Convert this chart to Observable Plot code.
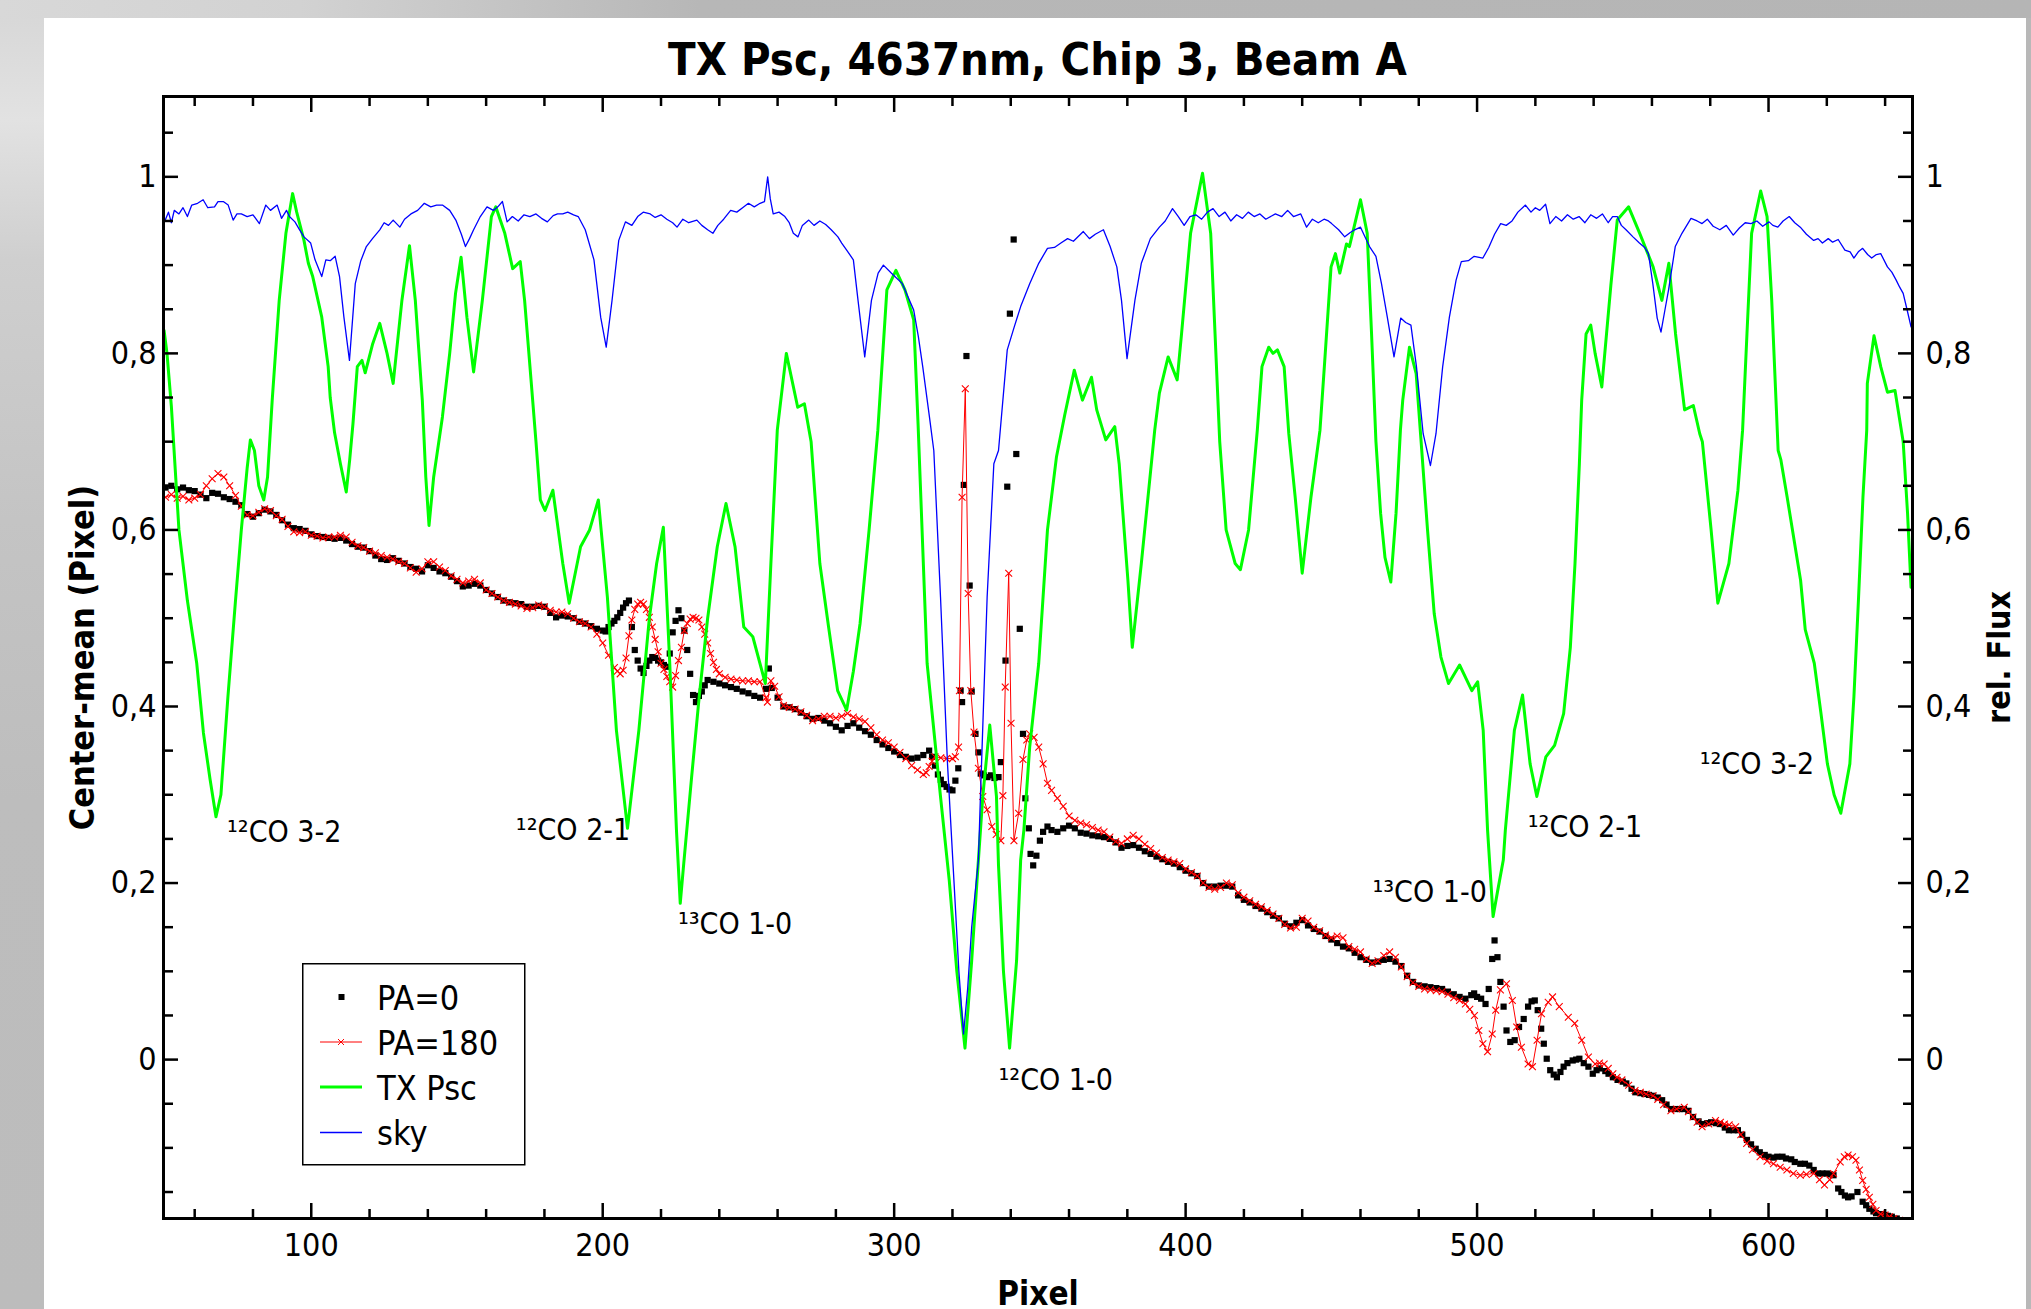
<!DOCTYPE html>
<html>
<head>
<meta charset="utf-8">
<script src="https://cdn.jsdelivr.net/npm/d3@7"></script>
<script src="https://cdn.jsdelivr.net/npm/@observablehq/plot@0.6"></script>
<style>
html,body{margin:0;padding:0;}
body{width:2031px;height:1309px;position:relative;overflow:hidden;background:#b8b8b8;font-family:'DejaVu Sans',sans-serif;font-stretch:condensed;}
#leftstrip{position:absolute;left:0;top:0;width:44px;height:1309px;background:linear-gradient(to bottom,#d6d6d6 0px,#e2e2e2 120px,#cfcfcf 260px,#c4c4c4 520px,#bdbdbd 800px,#bcbcbc 1309px);}
#topstrip{position:absolute;left:0;top:0;width:2031px;height:18px;background:linear-gradient(to right,#d8d8d8 0px,#d2d2d2 300px,#b7b7b7 700px,#b5b5b5 2031px);}
#panel{position:absolute;left:44px;top:18px;width:1982px;height:1291px;background:#fff;}
#title{position:absolute;left:163px;width:1749px;top:37px;text-align:center;font-weight:bold;font-size:45px;line-height:1;color:#000;white-space:nowrap;}
#chart{position:absolute;left:0;top:80px;}
#legend{position:absolute;left:302px;top:963px;}
</style>
</head>
<body>
<div id="leftstrip"></div>
<div id="topstrip"></div>
<div id="panel"></div>
<div id="title">TX Psc, 4637nm, Chip 3, Beam A</div>
<div id="chart"></div>
<div id="legend"></div>
<script>
// ---------- data (pixel, value) ----------
const seriesNames = ["PA=0", "PA=180", "TX Psc", "sky"];

const txPsc = [[49.5,0.826],[50.5,0.80],[52,0.74],[54.6,0.60],[57.5,0.52],[60.7,0.449],[63,0.37],[65.3,0.317],[67.3,0.275],[69,0.30],[71.4,0.411],[74,0.52],[76,0.60],[78,0.67],[79.1,0.702],[80.5,0.69],[82,0.65],[83.7,0.634],[85,0.66],[86.6,0.747],[89,0.86],[91.3,0.936],[93.6,0.981],[95,0.96],[97.5,0.928],[99,0.902],[100.5,0.887],[103.6,0.841],[105.8,0.785],[106.5,0.75],[108,0.71],[110,0.675],[112,0.643],[113.2,0.68],[114.3,0.72],[115.8,0.785],[117.4,0.792],[118.5,0.778],[121,0.81],[123.5,0.834],[126,0.80],[128.1,0.766],[131.1,0.86],[133.7,0.922],[135.7,0.86],[138.1,0.747],[139.3,0.66],[140.4,0.605],[142,0.66],[145,0.728],[147.5,0.80],[149.5,0.868],[151.4,0.909],[153.4,0.841],[155.7,0.779],[158.7,0.86],[161.8,0.955],[163.3,0.966],[166.4,0.936],[169.1,0.896],[171.7,0.904],[173.2,0.86],[175.5,0.766],[177.1,0.70],[178.6,0.634],[180.2,0.622],[182.9,0.645],[186.3,0.562],[188.5,0.517],[192.4,0.581],[195.5,0.60],[198.5,0.634],[201.6,0.524],[204.7,0.373],[208.5,0.262],[212.4,0.373],[216,0.50],[218.5,0.562],[220.8,0.603],[223,0.449],[225.3,0.26],[226.6,0.177],[227.8,0.222],[230.5,0.32],[233.1,0.411],[236,0.50],[239.3,0.581],[242.3,0.630],[245.4,0.581],[248.4,0.49],[251.5,0.479],[255.8,0.426],[257.7,0.562],[259.9,0.713],[263,0.80],[266.9,0.739],[269.2,0.743],[271.5,0.70],[274.5,0.562],[277.5,0.49],[280.6,0.418],[283.7,0.396],[286,0.44],[288.3,0.494],[291.4,0.60],[294.4,0.713],[297.5,0.872],[300.6,0.894],[303.7,0.872],[306.7,0.838],[308.2,0.72],[311.3,0.449],[315.9,0.298],[318.9,0.203],[321.5,0.10],[324.3,0.013],[326.6,0.112],[328.9,0.226],[330.4,0.298],[332.8,0.379],[335.1,0.298],[335.8,0.22],[337.5,0.10],[339.6,0.013],[342,0.112],[343.4,0.226],[344.5,0.26],[346.5,0.354],[349.6,0.449],[352.6,0.60],[355.7,0.683],[358.5,0.73],[361.8,0.781],[364.6,0.747],[367.7,0.773],[369.5,0.736],[372.6,0.702],[375.7,0.717],[377.2,0.675],[380.2,0.543],[381.7,0.467],[384.8,0.562],[389.4,0.713],[391,0.755],[394,0.796],[397.1,0.770],[398.6,0.822],[401.7,0.936],[405.8,1.004],[408.6,0.936],[410.1,0.822],[411.7,0.70],[413.9,0.60],[417,0.562],[418.8,0.555],[421.6,0.60],[424.6,0.713],[426.2,0.785],[428.5,0.807],[430,0.800],[431.5,0.804],[433.8,0.785],[435.4,0.709],[437.6,0.637],[440,0.551],[443,0.637],[446.1,0.713],[447.6,0.785],[449.9,0.898],[451.4,0.913],[452.9,0.891],[455.2,0.924],[456.2,0.921],[460,0.974],[462.3,0.936],[463.8,0.822],[465.3,0.70],[466.9,0.619],[468.4,0.569],[470.4,0.541],[472.2,0.619],[473.7,0.713],[474.5,0.747],[476.8,0.807],[479.1,0.777],[480.6,0.709],[483,0.60],[485.3,0.505],[487.6,0.456],[490.2,0.426],[494,0.447],[498.2,0.418],[500.2,0.428],[502.1,0.373],[503.6,0.26],[505.5,0.162],[507,0.19],[509,0.226],[509.7,0.26],[512.8,0.373],[515.6,0.413],[518.2,0.335],[520.5,0.298],[523.6,0.343],[526.6,0.356],[529.7,0.392],[532,0.467],[533.6,0.562],[535.1,0.675],[535.9,0.747],[537.4,0.822],[539,0.832],[540.5,0.80],[542.8,0.762],[545.9,0.877],[548.1,0.951],[552,0.966],[555.8,0.936],[560.4,0.898],[563.4,0.86],[565.8,0.902],[568.1,0.822],[571.2,0.736],[574.2,0.741],[576.4,0.709],[577.3,0.70],[580.3,0.60],[582.6,0.517],[586.4,0.562],[589.5,0.645],[591.1,0.713],[592.6,0.822],[594.2,0.936],[597.3,0.984],[599.5,0.955],[601.1,0.86],[603.3,0.69],[604.2,0.68],[606.4,0.637],[611,0.543],[612.6,0.487],[615.7,0.449],[618,0.392],[620.2,0.335],[622.5,0.30],[624.8,0.279],[627.9,0.335],[629.3,0.411],[630.9,0.524],[632.4,0.637],[633.7,0.713],[633.9,0.766],[636.2,0.820],[638.5,0.785],[640.8,0.756],[643.4,0.758],[646.2,0.70],[647.7,0.619],[648.9,0.535]];

const sky = [[49.9,0.951],[51,0.96],[52,0.948],[53,0.962],[54.6,0.958],[56,0.965],[57.5,0.955],[59,0.968],[61,0.97],[62.9,0.974],[64.5,0.965],[66.8,0.966],[68,0.972],[69.8,0.972],[71.5,0.968],[73.2,0.951],[74.5,0.958],[76,0.958],[78,0.955],[80,0.957],[82.2,0.947],[84.4,0.968],[86,0.962],[88.3,0.968],[89.8,0.953],[91.5,0.962],[92.5,0.955],[94.4,0.949],[96,0.94],[97.5,0.932],[99.8,0.925],[101.3,0.906],[103.6,0.887],[105,0.906],[106.5,0.905],[108.2,0.910],[109.7,0.887],[111.2,0.841],[113.1,0.792],[115.1,0.879],[117,0.905],[118.9,0.921],[121,0.93],[123.5,0.94],[125,0.948],[126.5,0.945],[128.1,0.951],[130.4,0.943],[132,0.952],[134.2,0.958],[136.5,0.962],[138.8,0.970],[141,0.966],[143,0.968],[145,0.968],[147.5,0.962],[149.6,0.951],[151.5,0.935],[152.9,0.921],[154.3,0.93],[155.7,0.94],[158,0.955],[160.3,0.966],[162.5,0.962],[164,0.966],[165.6,0.972],[167.2,0.949],[169,0.955],[171,0.95],[173,0.957],[175,0.955],[177.1,0.958],[179,0.953],[181,0.949],[183,0.956],[184.5,0.958],[186.3,0.958],[188,0.96],[190,0.957],[191.6,0.955],[194,0.94],[197,0.906],[199.3,0.841],[201.2,0.807],[203.2,0.86],[205.5,0.928],[207.8,0.949],[210,0.945],[212,0.955],[213.9,0.96],[216.3,0.958],[218,0.954],[220,0.957],[222,0.952],[224,0.948],[225.5,0.943],[227.5,0.952],[229.5,0.948],[232.3,0.951],[234,0.945],[236,0.94],[237.8,0.936],[239.5,0.945],[241.5,0.952],[243.9,0.962],[246,0.96],[248,0.965],[250,0.970],[252,0.966],[254,0.97],[255.5,0.972],[256.6,1.0],[257.5,0.975],[258.5,0.958],[260.5,0.96],[262.5,0.955],[264,0.948],[265.4,0.936],[267,0.932],[268.5,0.945],[270.7,0.951],[272.5,0.945],[274.5,0.95],[276.5,0.946],[278.4,0.94],[280.7,0.932],[282,0.925],[283.7,0.917],[286,0.906],[287.6,0.86],[289.9,0.796],[292.2,0.86],[294.5,0.891],[296.3,0.90],[299,0.891],[302.8,0.879],[306.7,0.849],[308.3,0.819],[309.8,0.785],[312.1,0.728],[313.6,0.69],[315.9,0.524],[318.3,0.335],[320.5,0.203],[322.2,0.10],[323.8,0.029],[325.2,0.08],[326.6,0.150],[328.9,0.226],[329.6,0.298],[331.9,0.524],[334.2,0.675],[335.8,0.69],[338.8,0.804],[341.2,0.830],[343.4,0.853],[346.5,0.879],[349.6,0.902],[352.6,0.919],[355,0.92],[357.2,0.925],[359.5,0.93],[361.5,0.927],[364.9,0.938],[367,0.93],[369,0.935],[371.8,0.94],[374.1,0.921],[376.4,0.898],[378,0.86],[379.9,0.794],[382.6,0.86],[384.8,0.902],[387.9,0.93],[391,0.943],[393,0.95],[395.5,0.964],[397.5,0.955],[399.5,0.945],[401.5,0.955],[403.5,0.957],[405.5,0.952],[407.5,0.96],[409.4,0.964],[411.5,0.955],[413.5,0.96],[415.5,0.95],[417.5,0.957],[419.5,0.953],[421.5,0.96],[423.5,0.955],[425.5,0.958],[427.5,0.952],[430.8,0.958],[433,0.955],[435,0.962],[437,0.955],[439.5,0.958],[441.5,0.943],[443.5,0.952],[445.5,0.948],[447.5,0.952],[449,0.95],[450.1,0.947],[452.5,0.94],[454.6,0.932],[456.5,0.937],[458,0.94],[460,0.943],[463.1,0.921],[465.3,0.910],[467.2,0.879],[469.2,0.841],[471.5,0.796],[473.8,0.84],[475.5,0.835],[477.3,0.832],[479.2,0.785],[481.5,0.709],[484,0.673],[485.9,0.709],[488.2,0.785],[490.5,0.841],[492.8,0.883],[494.6,0.904],[497,0.905],[499,0.91],[502,0.908],[504,0.92],[506,0.935],[508.1,0.947],[510,0.945],[512,0.95],[514,0.96],[516.6,0.968],[518.5,0.96],[520,0.965],[521.5,0.962],[523.5,0.969],[525,0.947],[527,0.955],[529,0.95],[531,0.957],[533,0.952],[535,0.955],[537,0.948],[539,0.957],[541,0.953],[543,0.958],[545,0.948],[546.5,0.955],[548.1,0.955],[549.5,0.945],[551.1,0.94],[553.5,0.932],[555.7,0.925],[557.5,0.92],[558.8,0.913],[560.3,0.879],[561.8,0.84],[563.1,0.824],[564.5,0.85],[565.7,0.872],[568,0.921],[570.3,0.936],[573.4,0.953],[575.5,0.95],[577.2,0.947],[579,0.952],[581,0.944],[583.3,0.94],[585.5,0.945],[587.9,0.934],[590,0.942],[592,0.948],[594,0.947],[596,0.95],[598,0.944],[600.2,0.949],[601.5,0.945],[603.2,0.943],[605,0.95],[607.1,0.955],[609,0.948],[610.9,0.943],[613,0.935],[615.5,0.928],[617,0.93],[618.5,0.925],[620.5,0.93],[622,0.926],[623.9,0.929],[626.2,0.917],[628,0.915],[629.3,0.908],[630.8,0.915],[632.3,0.919],[634,0.912],[635.4,0.908],[637,0.912],[638.5,0.913],[640.8,0.898],[642.3,0.892],[643.8,0.883],[645,0.875],[646.2,0.868],[647.5,0.85],[648.9,0.830]];

const pa0 = [[50,0.648],[52,0.650],[54,0.646],[56,0.648],[58,0.645],[60,0.644],[62,0.640],[64,0.636],[66,0.642],[68,0.641],[70,0.637],[72,0.635],[74,0.632],[76,0.628],[78,0.618],[80,0.615],[82,0.619],[84,0.623],[86,0.621],[88,0.617],[90,0.611],[92,0.606],[94,0.602],[96,0.601],[98,0.599],[100,0.595],[102,0.593],[104,0.592],[106,0.591],[108,0.590],[110,0.591],[112,0.588],[114,0.584],[116,0.581],[118,0.580],[120,0.576],[122,0.571],[124,0.567],[126,0.566],[128,0.568],[130,0.565],[132,0.562],[134,0.558],[136,0.556],[138,0.553],[140,0.560],[142,0.557],[144,0.553],[146,0.551],[148,0.547],[150,0.542],[152,0.536],[154,0.537],[156,0.539],[158,0.537],[160,0.532],[162,0.528],[164,0.524],[166,0.520],[168,0.518],[170,0.517],[172,0.516],[174,0.513],[176,0.513],[178,0.514],[180,0.513],[182,0.506],[184,0.501],[186,0.503],[188,0.502],[190,0.500],[192,0.496],[194,0.494],[196,0.491],[198,0.488],[200,0.486],[201,0.485],[202,0.490],[203,0.494],[204,0.497],[205,0.501],[206,0.506],[207,0.512],[208,0.517],[209,0.520],[210,0.490],[211,0.464],[212,0.452],[213,0.443],[214,0.438],[215,0.446],[216,0.452],[217,0.456],[218,0.455],[219,0.452],[220,0.450],[221,0.447],[222,0.445],[223,0.460],[224,0.484],[225,0.497],[226,0.509],[227,0.500],[228,0.486],[229,0.464],[230,0.437],[231,0.413],[232,0.405],[233,0.412],[234,0.417],[235,0.424],[236,0.430],[238,0.428],[240,0.426],[242,0.424],[244,0.422],[246,0.420],[248,0.417],[250,0.415],[252,0.412],[254,0.410],[256,0.420],[257,0.443],[258,0.421],[260,0.410],[262,0.400],[264,0.399],[266,0.397],[268,0.393],[270,0.389],[272,0.386],[274,0.387],[276,0.384],[278,0.381],[280,0.377],[282,0.373],[284,0.378],[286,0.381],[288,0.376],[290,0.372],[292,0.368],[294,0.362],[296,0.357],[298,0.353],[300,0.349],[302,0.345],[304,0.343],[306,0.341],[308,0.342],[310,0.345],[312,0.350],[313,0.343],[314,0.333],[315,0.323],[316,0.317],[317,0.312],[318,0.309],[319,0.306],[320,0.305],[321,0.316],[322,0.330],[322.8,0.418],[323.3,0.405],[323.9,0.651],[324.8,0.797],[325.9,0.537],[326.6,0.417],[327.9,0.369],[328.9,0.348],[329.7,0.324],[330.8,0.322],[332,0.320],[333.2,0.322],[334.4,0.319],[335.8,0.320],[336.6,0.337],[338.2,0.452],[338.8,0.649],[339.7,0.845],[341,0.929],[341.9,0.686],[343.1,0.488],[344.2,0.369],[345,0.296],[346.2,0.262],[346.8,0.233],[347.7,0.220],[348.8,0.231],[350,0.248],[351.1,0.258],[352.6,0.264],[354,0.260],[356,0.258],[358,0.262],[360,0.265],[362,0.262],[364,0.257],[366,0.256],[368,0.254],[370,0.253],[372,0.252],[374,0.250],[376,0.246],[378,0.240],[380,0.242],[382,0.243],[384,0.240],[386,0.236],[388,0.233],[390,0.230],[392,0.227],[394,0.224],[396,0.222],[398,0.218],[400,0.214],[402,0.211],[404,0.208],[406,0.200],[408,0.196],[410,0.196],[412,0.197],[414,0.197],[416,0.196],[418,0.186],[420,0.181],[422,0.178],[424,0.174],[426,0.171],[428,0.167],[430,0.163],[432,0.160],[434,0.154],[436,0.151],[438,0.155],[440,0.158],[442,0.152],[444,0.148],[446,0.145],[448,0.140],[450,0.136],[452,0.132],[454,0.128],[456,0.126],[458,0.121],[460,0.116],[462,0.113],[464,0.110],[466,0.111],[468,0.113],[470,0.114],[472,0.111],[474,0.106],[476,0.095],[478,0.088],[480,0.084],[482,0.083],[484,0.082],[486,0.081],[488,0.080],[490,0.077],[492,0.074],[494,0.071],[496,0.069],[498,0.073],[499,0.075],[500,0.071],[501.4,0.069],[502.9,0.063],[504,0.080],[505.2,0.114],[506,0.135],[507,0.116],[508,0.088],[509.1,0.060],[510.1,0.033],[511.4,0.020],[512.9,0.022],[514.4,0.037],[516,0.046],[517.5,0.060],[518.7,0.066],[519.8,0.067],[520.8,0.056],[522,0.035],[522.9,0.018],[523.9,0.001],[525.1,-0.012],[526.3,-0.017],[527.4,-0.020],[528.6,-0.014],[529.7,-0.008],[531,-0.004],[532.8,-0.001],[534,0.000],[535.1,0.001],[536.6,-0.004],[538.2,-0.008],[539.7,-0.016],[541,-0.012],[542.1,-0.010],[544,-0.013],[545.1,-0.016],[546.6,-0.020],[548.2,-0.023],[550,-0.025],[551.2,-0.027],[553,-0.033],[554.3,-0.037],[556,-0.038],[557.4,-0.039],[559,-0.040],[560.4,-0.041],[562,-0.043],[563.5,-0.046],[565,-0.051],[566.6,-0.056],[568,-0.056],[569.6,-0.056],[571,-0.056],[572.5,-0.058],[574.1,-0.065],[576,-0.070],[577.2,-0.073],[579,-0.072],[580.3,-0.071],[582,-0.072],[583.3,-0.073],[585,-0.077],[586.4,-0.080],[588,-0.080],[589.5,-0.080],[591,-0.085],[592.6,-0.091],[594,-0.096],[595.6,-0.101],[597,-0.105],[598.7,-0.108],[600,-0.110],[601.7,-0.111],[603,-0.110],[604.8,-0.110],[606,-0.112],[607.8,-0.113],[609,-0.116],[610.9,-0.118],[612.5,-0.118],[614,-0.120],[615.5,-0.125],[617,-0.129],[618.5,-0.129],[620,-0.129],[621.2,-0.130],[622.3,-0.131],[623.9,-0.146],[625,-0.150],[626.2,-0.154],[627.3,-0.156],[628.5,-0.155],[630.5,-0.150],[632.3,-0.161],[633.5,-0.165],[634.6,-0.169],[636,-0.172],[636.9,-0.174],[638.5,-0.175],[640,-0.176],[641,-0.177],[642.3,-0.178],[644,-0.180]];

const pa180 = [[50,0.637],[52,0.640],[54,0.636],[56,0.638],[58,0.634],[60,0.636],[62,0.640],[64,0.650],[66,0.658],[68,0.664],[70,0.660],[72,0.650],[74,0.639],[76,0.627],[78,0.617],[80,0.616],[82,0.620],[84,0.624],[86,0.622],[88,0.616],[90,0.612],[92,0.604],[94,0.598],[96,0.597],[98,0.598],[100,0.594],[102,0.593],[104,0.591],[106,0.592],[108,0.592],[110,0.594],[112,0.592],[114,0.586],[116,0.582],[118,0.580],[120,0.576],[122,0.574],[124,0.571],[126,0.569],[128,0.567],[130,0.564],[132,0.562],[134,0.557],[136,0.552],[138,0.556],[140,0.564],[142,0.564],[144,0.558],[146,0.554],[148,0.548],[150,0.544],[152,0.540],[154,0.542],[156,0.544],[158,0.540],[160,0.532],[162,0.528],[164,0.524],[166,0.520],[168,0.518],[170,0.516],[172,0.514],[174,0.511],[176,0.512],[178,0.515],[180,0.513],[182,0.509],[184,0.507],[186,0.507],[188,0.505],[190,0.500],[192,0.496],[194,0.494],[196,0.490],[198,0.482],[200,0.472],[202,0.458],[204,0.444],[205,0.440],[206,0.437],[207,0.441],[208,0.455],[209,0.480],[210,0.498],[211,0.510],[212,0.516],[213,0.518],[214,0.516],[215,0.510],[216,0.501],[217,0.490],[218,0.476],[219,0.462],[220,0.449],[221,0.442],[222,0.434],[223,0.428],[224,0.422],[225,0.435],[226,0.452],[227,0.467],[228,0.486],[229,0.494],[230,0.499],[231,0.501],[232,0.500],[233,0.498],[234,0.490],[235,0.482],[236,0.472],[237,0.460],[238,0.450],[239,0.442],[240,0.437],[242,0.433],[244,0.431],[246,0.430],[248,0.429],[250,0.429],[252,0.428],[254,0.428],[256,0.410],[256.5,0.405],[257.7,0.429],[259,0.423],[260.5,0.411],[262,0.401],[264,0.399],[266,0.397],[268,0.394],[270,0.390],[272,0.384],[274,0.386],[276,0.389],[278,0.389],[280,0.387],[282,0.389],[284,0.392],[286,0.388],[288,0.386],[290,0.383],[292,0.376],[294,0.368],[296,0.362],[298,0.359],[300,0.354],[302,0.348],[304,0.341],[306,0.333],[308,0.328],[310,0.323],[311,0.325],[312,0.332],[313,0.338],[314,0.343],[316,0.342],[318,0.341],[320,0.341],[321,0.343],[322.1,0.354],[322.4,0.418],[323.3,0.637],[324.4,0.760],[325.4,0.528],[326.3,0.418],[327.4,0.371],[328.9,0.330],[330.4,0.298],[331.9,0.283],[333.5,0.264],[335,0.255],[336.6,0.248],[337.3,0.299],[338.1,0.422],[339.3,0.551],[340.1,0.381],[341.1,0.248],[342.7,0.279],[344.2,0.340],[345.5,0.362],[346.5,0.369],[348,0.365],[349.6,0.354],[351.1,0.335],[352.6,0.313],[354,0.305],[356,0.296],[358,0.287],[360,0.276],[362,0.271],[364,0.268],[366,0.266],[368,0.263],[370,0.260],[372,0.258],[374,0.252],[376,0.247],[378,0.245],[380,0.250],[382,0.254],[384,0.250],[386,0.244],[388,0.239],[390,0.234],[392,0.229],[394,0.226],[396,0.224],[398,0.222],[400,0.216],[402,0.212],[404,0.208],[406,0.200],[408,0.195],[410,0.193],[412,0.195],[414,0.200],[416,0.198],[418,0.189],[420,0.184],[422,0.180],[424,0.176],[426,0.173],[428,0.169],[430,0.165],[432,0.160],[434,0.153],[436,0.149],[438,0.150],[440,0.160],[442,0.157],[444,0.150],[446,0.146],[448,0.141],[450,0.138],[452,0.140],[454,0.138],[456,0.128],[458,0.125],[460,0.122],[462,0.114],[464,0.109],[466,0.112],[468,0.118],[470,0.122],[472,0.116],[474,0.105],[476,0.094],[478,0.087],[480,0.083],[482,0.080],[484,0.079],[486,0.078],[488,0.077],[490,0.074],[492,0.070],[494,0.067],[496,0.063],[497.5,0.057],[499.1,0.050],[500.6,0.033],[502,0.018],[503.6,0.009],[505.2,0.029],[506.4,0.056],[508,0.079],[510.1,0.086],[512.1,0.067],[513.6,0.037],[515.2,0.014],[517.5,-0.005],[519,-0.008],[520.6,0.022],[522.1,0.052],[524.4,0.065],[525.9,0.071],[528.2,0.060],[531.3,0.048],[533.5,0.041],[535.9,0.022],[538.2,0.003],[540.5,-0.005],[542,-0.004],[543.6,-0.005],[545,-0.010],[546.6,-0.016],[548,-0.020],[549.7,-0.023],[552,-0.029],[554.2,-0.035],[556,-0.037],[558,-0.039],[560.4,-0.041],[562,-0.045],[564,-0.051],[566.5,-0.058],[568.5,-0.056],[571.1,-0.054],[572.5,-0.059],[574.1,-0.065],[575.5,-0.071],[577.2,-0.076],[579.5,-0.073],[581.8,-0.069],[583.5,-0.071],[584.9,-0.073],[586.5,-0.074],[588.7,-0.076],[590.5,-0.085],[592.5,-0.095],[594.5,-0.102],[597.1,-0.110],[599.5,-0.115],[601.7,-0.118],[604,-0.122],[606.3,-0.125],[608.5,-0.129],[610.9,-0.131],[613,-0.130],[615.5,-0.129],[617.5,-0.136],[619.2,-0.142],[621,-0.136],[622.3,-0.129],[624.6,-0.116],[626,-0.110],[627.3,-0.108],[628.8,-0.110],[630,-0.114],[631.2,-0.125],[632.3,-0.137],[633.5,-0.147],[634.6,-0.156],[635.8,-0.164],[636.9,-0.171],[638.5,-0.175],[640,-0.176],[641.5,-0.178],[643,-0.180],[645,-0.182]];

// line annotations (text anchored at its lower-left, in data units)
const lineLabels = ["¹²CO 3-2","¹²CO 2-1","¹³CO 1-0","¹²CO 1-0","¹³CO 1-0","¹²CO 2-1","¹²CO 3-2"];
const lineLabelPixel = [71.1, 170.2, 225.8, 335.8, 464.1, 517.4, 576.4];
const lineLabelValue = [0.2466, 0.2485, 0.1428, -0.0348, 0.1786, 0.2522, 0.324];

// axis ticks
const xMajorTicks = [100, 200, 300, 400, 500, 600];
const xMinorTicks = [60, 80, 120, 140, 160, 180, 220, 240, 260, 280, 320, 340, 360, 380, 420, 440, 460, 480, 520, 540, 560, 580, 620, 640];
const yMajorTicks = [0, 0.2, 0.4, 0.6, 0.8, 1];
const yMinorTicks = [-0.15, -0.1, -0.05, 0.05, 0.1, 0.15, 0.25, 0.3, 0.35, 0.45, 0.5, 0.55, 0.65, 0.7, 0.75, 0.85, 0.9, 0.95, 1.05];

// ---------- build ----------
const toRows = arr => arr.map(([x, y]) => ({x, y}));
const txRows = toRows(txPsc), skyRows = toRows(sky), pa0Rows = toRows(pa0), pa180Rows = toRows(pa180);
const annRows = lineLabels.map((t, i) => ({text: t, x: lineLabelPixel[i], y: lineLabelValue[i]}));
const fmt = d => String(d).replace(".", ",");
const blank = () => "";
const tickStyle = {tickFormat: blank, label: null, strokeWidth: 2.5};

const chart = Plot.plot({
  width: 2031,
  height: 1229,
  marginLeft: 163,
  marginRight: 119,
  marginTop: 16,
  marginBottom: 91,
  x: {domain: [49.3, 649.4]},
  y: {domain: [-0.18, 1.091]},
  style: {background: "none", fontFamily: "'DejaVu Sans', sans-serif", fontStretch: "condensed", color: "#000", overflow: "visible"},
  marks: [
    Plot.dot(pa0Rows, {x: "x", y: "y", symbol: "square", r: 3.5, fill: "#000", stroke: "none", clip: true}),
    Plot.line(pa180Rows, {x: "x", y: "y", stroke: "#ff0000", strokeWidth: 1, clip: true}),
    Plot.dot(pa180Rows, {x: "x", y: "y", symbol: "times", r: 3.2, stroke: "#ff0000", strokeWidth: 1.1, clip: true}),
    Plot.line(txRows, {x: "x", y: "y", stroke: "#00ff00", strokeWidth: 3, clip: true}),
    Plot.line(skyRows, {x: "x", y: "y", stroke: "#0000ff", strokeWidth: 1.3, clip: true}),
    Plot.text(annRows, {x: "x", y: "y", text: "text", textAnchor: "start", lineAnchor: "bottom", fontSize: 30, fill: "#000"}),
    // inward ticks on all four sides
    Plot.axisX({anchor: "bottom", ticks: xMajorTicks, tickSize: -15, ...tickStyle}),
    Plot.axisX({anchor: "bottom", ticks: xMinorTicks, tickSize: -9, ...tickStyle}),
    Plot.axisX({anchor: "top", ticks: xMajorTicks, tickSize: -15, ...tickStyle}),
    Plot.axisX({anchor: "top", ticks: xMinorTicks, tickSize: -9, ...tickStyle}),
    Plot.axisY({anchor: "left", ticks: yMajorTicks, tickSize: -15, ...tickStyle}),
    Plot.axisY({anchor: "left", ticks: yMinorTicks, tickSize: -10, ...tickStyle}),
    Plot.axisY({anchor: "right", ticks: yMajorTicks, tickSize: -15, ...tickStyle}),
    Plot.axisY({anchor: "right", ticks: yMinorTicks, tickSize: -10, ...tickStyle}),
    // tick labels
    Plot.axisX({anchor: "bottom", ticks: xMajorTicks, tickSize: 0, tickPadding: 15, fontSize: 32, label: null}),
    Plot.axisY({anchor: "left", ticks: yMajorTicks, tickSize: 0, tickPadding: 7, tickFormat: fmt, fontSize: 32, label: null}),
    Plot.axisY({anchor: "right", ticks: yMajorTicks, tickSize: 0, tickPadding: 13, tickFormat: fmt, fontSize: 32, label: null}),
    // axis titles
    Plot.axisX({anchor: "bottom", ticks: [], label: "Pixel", labelAnchor: "center", labelOffset: 86, labelArrow: "none", fontSize: 33, fontWeight: "bold"}),
    Plot.axisY({anchor: "left", ticks: [], label: "Center-mean (Pixel)", labelAnchor: "center", labelOffset: 94, labelArrow: "none", fontSize: 34, fontWeight: "bold"}),
    Plot.axisY({anchor: "right", ticks: [], label: "rel. Flux", labelAnchor: "center", labelOffset: 97, labelArrow: "none", fontSize: 32, fontWeight: "bold"}),
    Plot.frame({stroke: "#000", strokeWidth: 3})
  ]
});
document.getElementById("chart").appendChild(chart);

// ---------- legend ----------
const colors = {"PA=0": "#000", "PA=180": "#ff0000", "TX Psc": "#00ff00", "sky": "#0000ff"};
const leg = d3.select("#legend").append("svg").attr("width", 226).attr("height", 205)
  .style("font-family", "'DejaVu Sans', sans-serif").style("font-stretch", "condensed");
leg.append("rect").attr("x", 0.75).attr("y", 0.75).attr("width", 222).attr("height", 201)
  .attr("fill", "#fff").attr("stroke", "#000").attr("stroke-width", 1.5);
const rowY = [34, 79, 124, 169.5];
seriesNames.forEach((name, i) => {
  const g = leg.append("g").attr("transform", `translate(0,${rowY[i]})`);
  if (name === "PA=0") {
    g.append("rect").attr("x", 36.5).attr("y", -3).attr("width", 6).attr("height", 6).attr("fill", "#000");
  } else {
    g.append("line").attr("x1", 18).attr("x2", 60).attr("y1", 0).attr("y2", 0)
      .attr("stroke", colors[name]).attr("stroke-width", name === "TX Psc" ? 3 : name === "sky" ? 1.5 : 1);
    if (name === "PA=180") {
      g.append("path").attr("d", "M-3,-3L3,3M-3,3L3,-3").attr("transform", "translate(39,0)")
        .attr("stroke", "#ff0000").attr("stroke-width", 1).attr("fill", "none");
    }
  }
  g.append("text").attr("x", 75).attr("y", 12.5).attr("font-size", 34).attr("fill", "#000").text(name);
});
</script>
</body>
</html>
